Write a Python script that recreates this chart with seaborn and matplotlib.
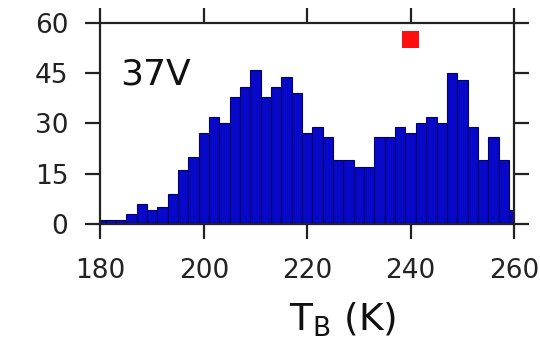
import numpy as np
import pandas as pd
import matplotlib
matplotlib.use("Agg")
import matplotlib.pyplot as plt
import seaborn as sns

# Data: histogram of brightness temperature (2 K bins centred on even values)
bin_centers = list(range(180, 262, 2))
counts = [1, 1, 1, 3, 6, 4, 5, 9, 16, 20,
          27, 32, 30, 38, 41, 46, 38, 41, 44, 39,
          27, 29, 26, 19, 19, 17, 17, 26, 26, 29,
          27, 30, 32, 30, 45, 43, 29, 19, 26, 19, 4]
marker_x = [240]
marker_y = [55]
panel_label = "37V"
x_ticks = [180, 200, 220, 240, 260]
y_ticks = [0, 15, 30, 45, 60]

df = pd.DataFrame({"TB": bin_centers, "count": counts})

sns.set_theme(style="white")
plt.rcParams['font.family'] = ['DejaVu Sans']

fig = plt.figure(figsize=(5.4, 3.55), dpi=100)
ax = fig.add_axes([0.186, 0.370, 0.766, 0.565])

sns.histplot(data=df, x="TB", weights="count", binwidth=2, binrange=(179, 261), ax=ax,
             color="#0808c8", edgecolor="#00006a", linewidth=0.8, alpha=1.0)

sns.scatterplot(x=marker_x, y=marker_y, marker="s", color="#ff1010", s=150,
                edgecolor="none", ax=ax, zorder=5)

ax.text(183.8, 41.5, panel_label, fontsize=26, color="#111111", va="baseline", ha="left")

ax.set_xlim(180, 260)
ax.set_ylim(0, 60)
ax.set_xticks(x_ticks)
ax.set_yticks(y_ticks)
ax.set_ylabel("")
ax.set_xlabel(r"T$_{\rm B}$ (K)", fontsize=27, color="#111111")
ax.xaxis.set_label_coords(0.585, -0.481)
ax.xaxis.label.set_va("center")

for s in ax.spines.values():
    s.set_visible(True)
    s.set_linewidth(1.6)
    s.set_color("#222222")

ax.tick_params(axis="both", which="major", direction="out", length=11, width=1.6,
               colors="#222222", labelsize=19, labelcolor="#222222",
               top=True, right=True, bottom=True, left=True, pad=12)
ax.tick_params(axis="x", pad=14)

fig.savefig("out.png", dpi=100, facecolor="white")
